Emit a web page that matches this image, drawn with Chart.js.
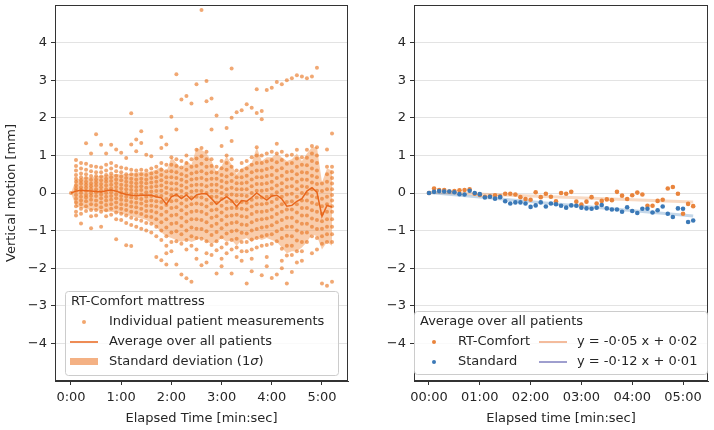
<!DOCTYPE html>
<html>
<head>
<meta charset="utf-8">
<script src="https://cdn.jsdelivr.net/npm/chart.js@4.4.1/dist/chart.umd.min.js"></script>
<style>
  html, body { margin: 0; padding: 0; background: #fff; }
  #wrap { position: relative; width: 714px; height: 430px; }
  canvas { position: absolute; top: 0; }
  #left { left: 0; }
  #right { left: 357px; }
</style>
</head>
<body>
<div id="wrap">
  <canvas id="left" width="357" height="430"></canvas>
  <canvas id="right" width="357" height="430"></canvas>
</div>
<script>
// time steps, seconds
const times = [0, 6, 12, 18, 24, 30, 36, 42, 48, 54, 60, 66, 72, 78, 84, 90, 96, 102, 108, 114,
  120, 126, 132, 138, 144, 150, 156, 162, 168, 174, 180, 186, 192, 198, 204, 210, 216, 222, 228, 234,
  240, 246, 252, 258, 264, 270, 276, 282, 288, 294, 300, 306, 312];

const xTicks = [0, 60, 120, 180, 240, 300];
const leftXLabels = ['0:00', '1:00', '2:00', '3:00', '4:00', '5:00'];
const rightXLabels = ['00:00', '01:00', '02:00', '03:00', '04:00', '05:00'];
const yTicks = [-4, -3, -2, -1, 0, 1, 2, 3, 4];
const yTickLabels = ['\u22124', '\u22123', '\u22122', '\u22121', '0', '1', '2', '3', '4'];

// left panel: individual patient measurements per time step (mm)
const measurements = [
  [0],
  [0.88, 0.72, 0.6, 0.48, 0.38, 0.3, 0.2, 0.12, 0.05, -0.05, -0.15, -0.25, -0.35, -0.5],
  [0.8, 0.65, 0.52, 0.42, 0.33, 0.25, 0.15, 0.08, 0, -0.1, -0.2, -0.3, -0.42, -0.55, -0.81],
  [0.78, 0.62, 0.5, 0.4, 0.3, 0.22, 0.14, 0.05, -0.05, -0.12, -0.22, -0.35, -0.48],
  [1.05, 0.72, 0.58, 0.45, 0.35, 0.25, 0.18, 0.1, 0, -0.08, -0.18, -0.3, -0.45, -0.62, -0.94],
  [0.7, 0.55, 0.45, 0.36, 0.28, 0.2, 0.1, 0.02, -0.08, -0.2, -0.32, -0.45, -0.6],
  [0.68, 0.55, 0.44, 0.34, 0.24, 0.15, 0.06, -0.04, -0.14, -0.25, -0.38, -0.5, -0.9],
  [0.75, 0.6, 0.48, 0.38, 0.3, 0.2, 0.1, 0, -0.1, -0.2, -0.32, -0.46, -0.62],
  [0.8, 0.65, 0.52, 0.42, 0.32, 0.22, 0.12, 0.02, -0.08, -0.18, -0.3, -0.42, -0.58],
  [0.72, 0.58, 0.46, 0.36, 0.26, 0.16, 0.06, -0.04, -0.14, -0.25, -0.38, -0.52, -0.7, -1.23],
  [0.68, 0.55, 0.44, 0.34, 0.22, 0.12, 0.02, -0.08, -0.18, -0.3, -0.42, -0.55, -0.72],
  [0.65, 0.5, 0.4, 0.3, 0.2, 0.1, 0, -0.1, -0.2, -0.32, -0.45, -0.6, -0.8, -1.39],
  [0.62, 0.5, 0.38, 0.28, 0.18, 0.08, -0.02, -0.12, -0.24, -0.36, -0.5, -0.66, -0.85, -1.41],
  [0.6, 0.48, 0.36, 0.26, 0.16, 0.06, -0.04, -0.14, -0.26, -0.38, -0.52, -0.7, -0.9],
  [0.62, 0.5, 0.38, 0.28, 0.18, 0.08, -0.04, -0.16, -0.28, -0.42, -0.56, -0.74, -0.95],
  [0.6, 0.48, 0.36, 0.26, 0.14, 0.02, -0.1, -0.22, -0.34, -0.48, -0.62, -0.8, -1.0],
  [0.65, 0.52, 0.4, 0.28, 0.16, 0.04, -0.08, -0.2, -0.34, -0.48, -0.64, -0.82, -1.05],
  [0.7, 0.55, 0.42, 0.3, 0.18, 0.05, -0.08, -0.22, -0.36, -0.52, -0.7, -0.9, -1.15, -1.7],
  [0.8, 0.62, 0.48, 0.34, 0.2, 0.06, -0.08, -0.24, -0.4, -0.58, -0.78, -1.0, -1.25, -1.79],
  [0.75, 0.58, 0.42, 0.28, 0.14, 0, -0.16, -0.32, -0.5, -0.7, -0.92, -1.15, -1.4, -1.9],
  [0.95, 0.75, 0.58, 0.42, 0.26, 0.1, -0.06, -0.22, -0.4, -0.6, -0.82, -1.05, -1.3, -1.55],
  [0.9, 0.72, 0.55, 0.4, 0.25, 0.1, -0.05, -0.2, -0.38, -0.58, -0.8, -1.02, -1.28, -1.9],
  [0.85, 0.68, 0.5, 0.35, 0.2, 0.05, -0.1, -0.28, -0.46, -0.66, -0.88, -1.1, -1.35, -2.17],
  [1.0, 0.8, 0.62, 0.45, 0.3, 0.14, -0.02, -0.18, -0.36, -0.55, -0.76, -1.0, -1.25, -1.5, -2.27],
  [0.9, 0.7, 0.52, 0.36, 0.2, 0.04, -0.12, -0.3, -0.5, -0.7, -0.92, -1.15, -1.4, -2.36],
  [1.15, 0.92, 0.72, 0.55, 0.38, 0.22, 0.06, -0.1, -0.28, -0.48, -0.7, -0.95, -1.2, -1.5],
  [1.2, 0.98, 0.78, 0.58, 0.4, 0.22, 0.05, -0.12, -0.3, -0.5, -0.72, -0.96, -1.22, -1.92],
  [1.1, 0.9, 0.7, 0.52, 0.35, 0.18, 0, -0.18, -0.36, -0.56, -0.78, -1.02, -1.28, -1.6],
  [0.9, 0.72, 0.55, 0.38, 0.22, 0.06, -0.1, -0.28, -0.46, -0.66, -0.88, -1.12, -1.38, -1.65],
  [0.7, 0.54, 0.38, 0.22, 0.06, -0.1, -0.26, -0.44, -0.62, -0.82, -1.04, -1.28, -1.52, -2.14],
  [0.85, 0.66, 0.48, 0.32, 0.16, 0, -0.16, -0.34, -0.52, -0.72, -0.94, -1.18, -1.45, -1.75],
  [1.0, 0.8, 0.62, 0.44, 0.28, 0.1, -0.06, -0.24, -0.42, -0.62, -0.84, -1.08, -1.35, -1.6],
  [0.9, 0.7, 0.5, 0.32, 0.14, -0.04, -0.22, -0.4, -0.6, -0.8, -1.02, -1.25, -1.5, -2.14],
  [0.6, 0.42, 0.26, 0.1, -0.06, -0.22, -0.4, -0.58, -0.78, -1.0, -1.22, -1.45, -1.7],
  [0.8, 0.6, 0.42, 0.26, 0.1, -0.06, -0.24, -0.42, -0.62, -0.84, -1.06, -1.3, -1.55],
  [0.85, 0.65, 0.46, 0.28, 0.1, -0.08, -0.26, -0.44, -0.64, -0.85, -1.08, -1.3, -1.55, -2.41],
  [0.95, 0.75, 0.55, 0.36, 0.18, 0, -0.18, -0.36, -0.56, -0.78, -1.0, -1.24, -1.5, -2.08],
  [1.22, 1.0, 0.8, 0.6, 0.42, 0.24, 0.06, -0.12, -0.3, -0.5, -0.72, -0.96, -1.2, -1.45],
  [1.0, 0.8, 0.6, 0.42, 0.24, 0.06, -0.12, -0.3, -0.5, -0.7, -0.92, -1.15, -1.4, -2.19],
  [1.05, 0.84, 0.64, 0.45, 0.26, 0.08, -0.1, -0.28, -0.48, -0.68, -0.9, -1.12, -1.38, -1.7],
  [1.1, 0.88, 0.68, 0.48, 0.3, 0.12, -0.06, -0.24, -0.44, -0.64, -0.86, -1.1, -1.35, -2.26],
  [1.31, 1.05, 0.82, 0.6, 0.4, 0.2, 0.02, -0.16, -0.36, -0.56, -0.78, -1.02, -1.28, -2.17],
  [1.1, 0.88, 0.66, 0.46, 0.26, 0.08, -0.1, -0.3, -0.5, -0.72, -0.96, -1.2, -1.48, -1.8],
  [1.0, 0.78, 0.56, 0.36, 0.16, -0.04, -0.24, -0.44, -0.66, -0.9, -1.14, -1.4, -1.66, -2.41],
  [1.02, 0.8, 0.58, 0.38, 0.18, -0.02, -0.22, -0.44, -0.66, -0.9, -1.15, -1.4, -1.65, -2.1],
  [1.15, 0.92, 0.7, 0.5, 0.3, 0.1, -0.1, -0.3, -0.52, -0.76, -1.0, -1.26, -1.55],
  [0.95, 0.75, 0.55, 0.36, 0.18, 0, -0.2, -0.4, -0.6, -0.82, -1.06, -1.3, -1.55, -1.8],
  [1.15, 0.94, 0.74, 0.54, 0.35, 0.16, -0.02, -0.2, -0.4, -0.6, -0.82, -1.05, -1.3],
  [1.25, 1.05, 0.85, 0.65, 0.46, 0.28, 0.1, -0.08, -0.26, -0.46, -0.68, -0.9, -1.15],
  [1.22, 1.0, 0.8, 0.6, 0.42, 0.24, 0.06, -0.12, -0.3, -0.5, -0.72, -0.96, -1.2],
  [0.25, 0.05, -0.15, -0.35, -0.55, -0.75, -0.95, -1.15, -1.35, -2.41],
  [1.16, 0.7, 0.5, 0.3, 0.1, -0.1, -0.3, -0.5, -0.7, -0.9, -1.1, -1.3, -2.47],
  [1.58, 0.7, 0.55, 0.4, 0.25, 0.1, -0.05, -0.2, -0.35, -0.5, -0.7, -0.9, -1.1, -1.3, -2.36]
];

// single readings far from the rest [time s, mm]
const outliers = [
  [18, 1.32], [30, 1.56], [36, 1.28], [42, 1.05], [48, 1.28], [54, 1.16], [60, 1.07], [66, 0.93],
  [72, 2.12], [72, 1.29], [78, 1.42], [78, 1.11], [84, 1.64], [84, 1.33], [90, 1.02], [96, 0.98],
  [108, 1.49], [108, 1.2], [114, 1.29], [120, 2.03], [126, 3.16], [126, 1.69], [132, 2.49], [138, 2.58],
  [144, 2.38], [150, 2.89], [156, 4.87], [162, 2.98], [162, 2.44], [168, 2.51], [168, 1.69], [174, 2.06],
  [180, 1.25], [186, 1.73], [192, 3.31], [192, 2.0], [192, 1.38], [198, 2.15], [204, 2.2], [210, 2.36],
  [216, 2.27], [222, 2.76], [222, 2.13], [228, 2.18], [228, 1.96], [234, 2.74], [240, 2.8], [246, 2.95],
  [252, 2.89], [258, 3.0], [264, 3.05], [270, 3.13], [276, 3.1], [282, 3.05], [288, 3.1], [294, 3.33],
  [6, -0.6], [114, -1.6], [150, -1.75], [162, -1.85], [180, -1.95], [204, -1.8], [216, -1.75],
  [234, -1.95], [252, -2.0], [270, -1.85], [288, -1.6], [294, -1.5]
];

const average = [0.00, 0.05, 0.07, 0.06, 0.05, 0.04, 0.03, 0.06, 0.08, 0.05, 0.00, -0.04, -0.06, -0.07,
  -0.06, -0.05, -0.06, -0.10, -0.13, -0.30, -0.10, -0.04, -0.15, -0.05, -0.18, -0.05, -0.02, -0.02,
  -0.15, -0.30, -0.18, -0.10, -0.20, -0.36, -0.20, -0.22, -0.12, 0.00, -0.10, -0.19, -0.08, -0.06,
  -0.16, -0.35, -0.33, -0.22, -0.15, 0.05, 0.14, 0.02, -0.62, -0.33, -0.37];

const bandUpper = [0.0, 0.35, 0.40, 0.42, 0.42, 0.45, 0.45, 0.48, 0.50, 0.50, 0.50, 0.50, 0.52, 0.55,
  0.55, 0.55, 0.58, 0.62, 0.70, 0.55, 0.95, 0.80, 0.65, 0.85, 0.75, 1.20, 1.15, 1.05, 0.85, 0.55,
  0.72, 0.98, 0.75, 0.50, 0.65, 0.72, 0.80, 1.22, 0.85, 0.95, 0.95, 1.05, 0.95, 0.85, 0.90, 1.05,
  0.85, 1.05, 1.22, 1.22, 0.28, 0.65, 0.60];

const bandLower = [0.0, -0.35, -0.40, -0.42, -0.45, -0.45, -0.48, -0.50, -0.50, -0.52, -0.55, -0.58,
  -0.62, -0.65, -0.68, -0.72, -0.80, -0.90, -1.05, -1.15, -1.20, -1.25, -1.30, -1.25, -1.30, -1.25,
  -1.20, -1.30, -1.35, -1.30, -1.20, -1.30, -1.25, -1.40, -1.25, -1.20, -1.30, -1.20, -1.25, -1.20,
  -1.25, -1.30, -1.45, -1.60, -1.55, -1.55, -1.45, -1.30, -1.10, -1.15, -1.50, -1.30, -1.40];

// right panel: averages per mattress
const rtComfort = [0.00, 0.12, 0.08, 0.08, 0.04, 0.05, 0.07, 0.08, 0.10, -0.02, -0.05, -0.10, -0.09,
  -0.06, -0.09, -0.02, -0.02, -0.04, -0.11, -0.16, -0.18, 0.02, -0.11, -0.02, -0.10, -0.22, 0.00,
  -0.02, 0.03, -0.23, -0.31, -0.23, -0.11, -0.28, -0.21, -0.17, -0.19, 0.03, -0.07, -0.16, -0.06,
  0.01, -0.04, -0.34, -0.34, -0.21, -0.18, 0.12, 0.16, -0.02, -0.55, -0.29, -0.35];

const standard = [0.00, 0.03, 0.05, 0.04, 0.04, 0.02, -0.03, -0.04, 0.06, 0.00, -0.03, -0.12, -0.10,
  -0.15, -0.11, -0.22, -0.28, -0.25, -0.25, -0.28, -0.37, -0.33, -0.25, -0.36, -0.28, -0.30, -0.34,
  -0.39, -0.33, -0.34, -0.39, -0.41, -0.42, -0.39, -0.32, -0.41, -0.44, -0.44, -0.50, -0.38, -0.48,
  -0.53, -0.42, -0.42, -0.52, -0.46, -0.36, -0.55, -0.64, -0.41, -0.42, -0.77, -0.73];

// linear fits, values at first and last time step
const fitTimes = [0, 312];
const fitRT = [0.02, -0.24];
const fitStd = [0.01, -0.61];

const FONT = 'DejaVu Sans';
const TXT = '#262626';
const ORANGE_PT = 'rgba(234,122,40,0.65)';
const ORANGE_LINE = '#e8661c';
const BAND = 'rgba(243,155,90,0.5)';
const RT_COL = '#e9843c';
const STD_COL = '#3b79b7';

Chart.defaults.font.family = FONT;
Chart.defaults.font.size = 13;
Chart.defaults.color = TXT;

const pair = (xs, ys) => xs.map((x, i) => ({ x: x, y: ys[i] }));

const patientPts = [];
times.forEach((t, i) => measurements[i].forEach(v => patientPts.push({ x: t, y: v })));
outliers.forEach(o => patientPts.push({ x: o[0], y: o[1] }));

const frame = {
  id: 'frame',
  afterDatasetsDraw(chart) {
    const a = chart.chartArea, c = chart.ctx;
    c.save();
    c.strokeStyle = '#333';
    c.lineWidth = 1;
    c.strokeRect(Math.round(a.left) + 0.5, Math.round(a.top) + 0.5,
      Math.round(a.right - a.left) - 1, Math.round(a.bottom - a.top) - 1);
    c.restore();
  }
};

function legendBox(c, x, y, w, h) {
  c.save();
  c.fillStyle = 'rgba(255,255,255,0.8)';
  c.strokeStyle = '#cccccc';
  c.lineWidth = 1;
  c.beginPath();
  c.roundRect(x + 0.5, y + 0.5, w, h, 3);
  c.fill();
  c.stroke();
  c.restore();
}

function txt(c, s, x, y, style) {
  c.fillStyle = TXT;
  c.font = (style ? style + ' ' : '') + '13px ' + FONT;
  c.textBaseline = 'middle';
  c.textAlign = 'left';
  c.fillText(s, x, y);
  return x + c.measureText(s).width;
}

const leftLegend = {
  id: 'leftLegend',
  afterDraw(chart) {
    const c = chart.ctx;
    legendBox(c, 65, 291, 273, 84);
    c.save();
    txt(c, 'RT-Comfort mattress', 71, 302);
    c.fillStyle = 'rgba(236,128,48,0.7)';
    c.beginPath(); c.arc(84, 322, 2, 0, Math.PI * 2); c.fill();
    txt(c, 'Individual patient measurements', 109, 322);
    c.strokeStyle = ORANGE_LINE; c.lineWidth = 1.5;
    c.beginPath(); c.moveTo(70, 342); c.lineTo(98, 342); c.stroke();
    txt(c, 'Average over all patients', 109, 342);
    c.fillStyle = '#f4b184';
    c.fillRect(70, 358, 28, 7);
    let x = txt(c, 'Standard deviation (1', 109, 362);
    x = txt(c, '\u03c3', x, 362, 'italic');
    txt(c, ')', x, 362);
    c.restore();
  }
};

const rightLegend = {
  id: 'rightLegend',
  afterDraw(chart) {
    const c = chart.ctx;
    legendBox(c, 57, 311, 293, 63);
    c.save();
    txt(c, 'Average over all patients', 63, 322);
    c.fillStyle = RT_COL;
    c.beginPath(); c.arc(77, 342, 2, 0, Math.PI * 2); c.fill();
    txt(c, 'RT-Comfort', 101, 342);
    c.strokeStyle = '#e8783a'; c.lineWidth = 1;
    c.beginPath(); c.moveTo(182, 342); c.lineTo(210, 342); c.stroke();
    txt(c, 'y = -0\u00b705 x + 0\u00b702', 220, 342);
    c.fillStyle = STD_COL;
    c.beginPath(); c.arc(77, 362, 2, 0, Math.PI * 2); c.fill();
    txt(c, 'Standard', 101, 362);
    c.strokeStyle = '#3f3f9e'; c.lineWidth = 1;
    c.beginPath(); c.moveTo(182, 362); c.lineTo(210, 362); c.stroke();
    txt(c, 'y = -0\u00b712 x + 0\u00b701', 220, 362);
    c.restore();
  }
};

function scales(xMin, xMax, xLabels, xTitle, yWidth, yTitle) {
  return {
    x: {
      type: 'linear', min: xMin, max: xMax,
      afterBuildTicks: s => { s.ticks = xTicks.map(v => ({ value: v })); },
      afterFit: s => { s.height = 49; s.paddingLeft = 0; s.paddingRight = 0; },
      ticks: { autoSkip: false, maxRotation: 0, padding: 5, color: TXT,
        callback: (v, i) => xLabels[i] },
      grid: { drawOnChartArea: false, drawTicks: true, tickLength: 4, tickColor: '#333' },
      border: { display: true, color: '#333' },
      title: { display: true, text: xTitle, color: TXT, padding: { top: 2, bottom: 4 } }
    },
    y: {
      type: 'linear', min: -5, max: 5,
      afterBuildTicks: s => { s.ticks = yTicks.map(v => ({ value: v })); },
      afterFit: s => { s.width = yWidth; s.paddingTop = 0; s.paddingBottom = 0; },
      ticks: { autoSkip: false, padding: 4, color: TXT,
        callback: v => yTickLabels[yTicks.indexOf(v)] },
      grid: { color: '#e3e3e3', lineWidth: 1, drawTicks: true, tickLength: 4, tickColor: '#333' },
      border: { display: true, color: '#333' },
      title: { display: !!yTitle, text: yTitle || '', color: TXT, padding: { top: 4, bottom: 4 } }
    }
  };
}

new Chart(document.getElementById('left'), {
  type: 'scatter',
  data: {
    datasets: [
      { type: 'line', data: pair(times, average), borderColor: ORANGE_LINE, borderWidth: 1.5,
        pointRadius: 0, fill: false, tension: 0, order: 0 },
      { data: patientPts, backgroundColor: ORANGE_PT, borderWidth: 0, pointRadius: 2, order: 1 },
      { type: 'line', data: pair(times, bandUpper), borderWidth: 0, borderColor: 'rgba(0,0,0,0)',
        backgroundColor: BAND, pointRadius: 0, fill: '+1', tension: 0, order: 2 },
      { type: 'line', data: pair(times, bandLower), borderWidth: 0, borderColor: 'rgba(0,0,0,0)',
        pointRadius: 0, fill: false, tension: 0, order: 3 }
    ]
  },
  options: {
    responsive: false, animation: false,
    layout: { padding: { left: 0, right: 9, top: 5, bottom: 0 } },
    plugins: { legend: { display: false }, tooltip: { enabled: false } },
    scales: scales(-19.1, 331.1, leftXLabels, 'Elapsed Time [min:sec]', 55, 'Vertical motion [mm]')
  },
  plugins: [frame, leftLegend]
});

new Chart(document.getElementById('right'), {
  type: 'scatter',
  data: {
    datasets: [
      { data: pair(times, standard), backgroundColor: STD_COL, borderWidth: 0, pointRadius: 2.3, order: 0 },
      { data: pair(times, rtComfort), backgroundColor: RT_COL, borderWidth: 0, pointRadius: 2.3, order: 1 },
      { type: 'line', data: pair(fitTimes, fitStd), borderColor: 'rgba(59,121,183,0.3)', borderWidth: 3,
        pointRadius: 0, fill: false, order: 2 },
      { type: 'line', data: pair(fitTimes, fitRT), borderColor: 'rgba(233,132,60,0.3)', borderWidth: 3,
        pointRadius: 0, fill: false, order: 3 }
    ]
  },
  options: {
    responsive: false, animation: false,
    layout: { padding: { left: 0, right: 6, top: 5, bottom: 0 } },
    plugins: { legend: { display: false }, tooltip: { enabled: false } },
    scales: scales(-17.7, 329.5, rightXLabels, 'Elapsed time [min:sec]', 57, '')
  },
  plugins: [frame, rightLegend]
});
</script>
</body>
</html>
